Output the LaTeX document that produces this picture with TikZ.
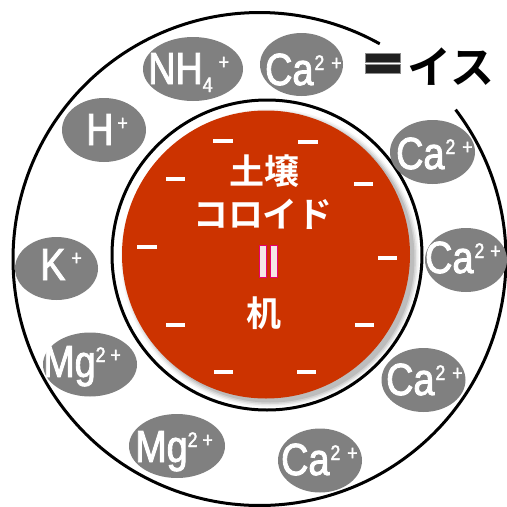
\documentclass[tikz,border=0pt]{standalone}
\usepackage{fontspec}
\setmainfont{Liberation Sans}
\newfontfamily\ionfont[FakeStretch=0.84,FakeBold=2]{Liberation Sans}
\newfontfamily\jpbold{Noto Sans CJK JP Bold}
\usetikzlibrary{shapes.geometric}
\definecolor{soilred}{HTML}{CC3300}
\definecolor{iongray}{HTML}{808080}
\definecolor{eqpink}{HTML}{F5E6E6}
\definecolor{eqedge}{HTML}{E8006E}
\newcommand\chgup[1]{\raisebox{15pt}{\fontsize{21}{21}\selectfont #1}}
\newcommand\chgdn[1]{\raisebox{-8pt}{\fontsize{21}{21}\selectfont #1}}
\tikzset{
  ion/.style={ellipse, fill=iongray, draw=none, inner sep=0pt},
  iontext/.style={anchor=base west, inner sep=0pt, text=white, font=\ionfont\fontsize{45}{45}\selectfont},
  jptext/.style={inner sep=0pt, text=white, font=\jpbold\fontsize{35}{35}\selectfont},
  minusbar/.style={white, line width=3.5pt},
  ring/.style={black, line width=3pt},
}
\begin{document}
\begin{tikzpicture}[x=1pt, y=-1pt]
\useasboundingbox (0,0) rectangle (507,507);
% outer circle with gap
\coordinate (oc) at (259.5,259);
\draw[ring] ([shift={(-37.3:246.5)}]oc) arc[start angle=-37.3, end angle=299.2, radius=246.5];
% inner circle
\coordinate (ic) at (267,255);
\fill[white] (ic) circle[radius=155];
\draw[ring] (ic) circle[radius=155];
% shadow
\coordinate (sc) at (270,258);
\foreach \r/\o in {149/0.04,147.5/0.06,146/0.08,144.5/0.10}{
  \fill[black, opacity=\o] (sc) circle[radius=\r];
}
\coordinate (rc) at (266,254.5);
\fill[soilred] (rc) circle[radius=144];
% minus signs
\draw[minusbar] (213,141) -- (233,141);
\draw[minusbar] (298,142) -- (318,142);
\draw[minusbar] (166,179) -- (185,179);
\draw[minusbar] (354,184) -- (373,184);
\draw[minusbar] (137,247) -- (157,247);
\draw[minusbar] (378,258) -- (397,258);
\draw[minusbar] (166,325) -- (185,325);
\draw[minusbar] (355,325) -- (374,325);
\draw[minusbar] (214,372) -- (233,372);
\draw[minusbar] (297,372) -- (316,372);
% text in the colloid
\node[jptext] (t1) at (264,171) {土壌};
\node[jptext] (t2) at (263,214) {コロイド};
\node[jptext] (t3) at (264,313) {机};
\draw[fill=eqpink, draw=eqedge, line width=1pt] (259,245) rectangle (266.5,277);
\draw[fill=eqpink, draw=eqedge, line width=1pt] (270,245) rectangle (277.5,277);
% ions
\node[ion, minimum width=100pt, minimum height=64pt] (nh4) at (193,69) {};
\node[ion, minimum width=83pt, minimum height=63pt] (ca1) at (301.5,64.5) {};
\node[ion, minimum width=84pt, minimum height=64pt] (h) at (104,130) {};
\node[ion, minimum width=85pt, minimum height=64pt] (ca2) at (432.5,152) {};
\node[ion, minimum width=83pt, minimum height=63pt] (k) at (56.5,268.5) {};
\node[ion, minimum width=82pt, minimum height=64pt] (ca3) at (466,260) {};
\node[ion, minimum width=94pt, minimum height=64pt] (mg1) at (90,364.5) {};
\node[ion, minimum width=84pt, minimum height=64pt] (ca4) at (423.5,380) {};
\node[ion, minimum width=96pt, minimum height=64pt] (mg2) at (177,446) {};
\node[ion, minimum width=84pt, minimum height=64pt] (ca5) at (320,460.5) {};
% ion labels
\node[iontext] (lnh4) at (148,84) {NH\chgdn{4}\hspace{6pt}\chgup{+}};
\node[iontext] (lca1) at (265,85) {Ca\hspace{1pt}\chgup{2\hspace{7pt}+}};
\node[iontext] (lh) at (86,145) {H\hspace{4pt}\chgup{+}};
\node[iontext] (lca2) at (396,169) {Ca\hspace{1pt}\chgup{2\hspace{7pt}+}};
\node[iontext] (lk) at (40,280) {K\hspace{6pt}\chgup{+}};
\node[iontext] (lca3) at (425,273) {Ca\hspace{1pt}\chgup{2\hspace{6pt}+}};
\node[iontext] (lmg1) at (43,377) {Mg\chgup{2\hspace{5pt}+}};
\node[iontext] (lca4) at (386,395) {Ca\hspace{1pt}\chgup{2\hspace{7pt}+}};
\node[iontext] (lmg2) at (135,462) {Mg\chgup{2\hspace{5pt}+}};
\node[iontext] (lca5) at (281,475) {Ca\hspace{1pt}\chgup{2\hspace{7pt}+}};
% "=イス"
\draw[fill=black!88, draw=black!45, line width=0.6pt] (365,53.5) rectangle (400,62);
\draw[fill=black!88, draw=black!45, line width=0.6pt] (365,64.5) rectangle (400,73);
\node[inner sep=0pt, font=\jpbold\fontsize{44}{44}\selectfont] (isu) at (451,67) {イス};
\end{tikzpicture}
\end{document}
